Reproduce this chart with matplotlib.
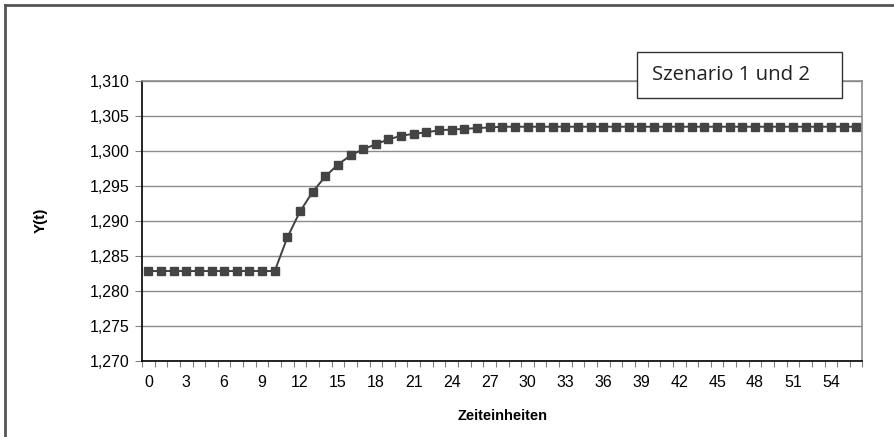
import numpy as np
import matplotlib
matplotlib.use("Agg")
import matplotlib.pyplot as plt
from matplotlib.lines import Line2D
from matplotlib.ticker import FuncFormatter

# data
periods = list(range(57))
y_start = [1.2828] * 11
y_rise = [1.2876, 1.2913, 1.2941, 1.2963, 1.2980, 1.2993, 1.3002, 1.3009,
          1.3016, 1.3021, 1.3024, 1.3026, 1.3029, 1.3030, 1.3031, 1.3032, 1.3033]
y_end = [1.3034] * 29
y_vals = y_start + y_rise + y_end

y_ticks = [1.270, 1.275, 1.280, 1.285, 1.290, 1.295, 1.300, 1.305, 1.310]
x_labels = list(range(0, 57, 3))
legend_text = "Szenario 1 und 2"

plt.rcParams['font.family'] = ['Liberation Sans', 'DejaVu Sans']

W, H = 894, 437
fig = plt.figure(figsize=(W / 100, H / 100), dpi=100)
ax = fig.add_axes([142 / W, 1 - 360.7 / H, (862.5 - 142) / W, (360.7 - 80.5) / H])

ax.plot(periods, y_vals, color="#404040", lw=1.4, marker="s", ms=5.2,
        mfc="#444444", mec="#444444", zorder=3)

ax.set_xlim(-0.5, len(periods) - 0.5)
ax.set_ylim(y_ticks[0], y_ticks[-1])
ax.set_yticks(y_ticks)
ax.yaxis.set_major_formatter(FuncFormatter(lambda v, p: f"{v:.3f}".replace(".", ",")))
ax.grid(axis="y", color="#8c8c8c", lw=1.0)
ax.set_axisbelow(True)

# category axis: ticks between categories, labels every third
ax.set_xticks(np.arange(-0.5, len(periods), 1.0))
ax.set_xticklabels([])
ax.set_xticks(x_labels, minor=True)
ax.set_xticklabels([str(v) for v in x_labels], minor=True)
ax.tick_params(axis="x", which="major", length=4, width=0.8, color="#808080", direction="out")
ax.tick_params(axis="x", which="minor", length=0, pad=10, labelsize=11.5)
ax.tick_params(axis="y", length=5, width=0.8, color="#808080", pad=4, labelsize=11.5)

for s in ("left", "bottom"):
    ax.spines[s].set_color("black")
    ax.spines[s].set_linewidth(1.2)
for s in ("top", "right"):
    ax.spines[s].set_color("#8c8c8c")
    ax.spines[s].set_linewidth(1.2)

ax.set_xlabel("Zeiteinheiten", fontsize=10.5, fontweight="bold", labelpad=14)
ax.set_ylabel("Y(t)", fontsize=11, fontweight="bold", labelpad=30)

# legend box
fig.patches.append(plt.Rectangle((637 / W, 1 - 98 / H), 205 / W, 46 / H,
                                 transform=fig.transFigure, fc="white", ec="#333333",
                                 lw=1.0, zorder=4))
fig.text(731.5 / W, 1 - 75.5 / H, legend_text, family=["Open Sans", "DejaVu Sans"],
         fontsize=14.7, ha="center", va="center", color="#222222", zorder=5)

# chart frame (only top and left visible in crop)
fig.add_artist(Line2D([5 / W, 1], [1 - 5 / H, 1 - 5 / H], color="#555555", lw=2))
fig.add_artist(Line2D([5 / W, 5 / W], [0, 1 - 5 / H], color="#555555", lw=2))

fig.savefig("out.png", dpi=100)
